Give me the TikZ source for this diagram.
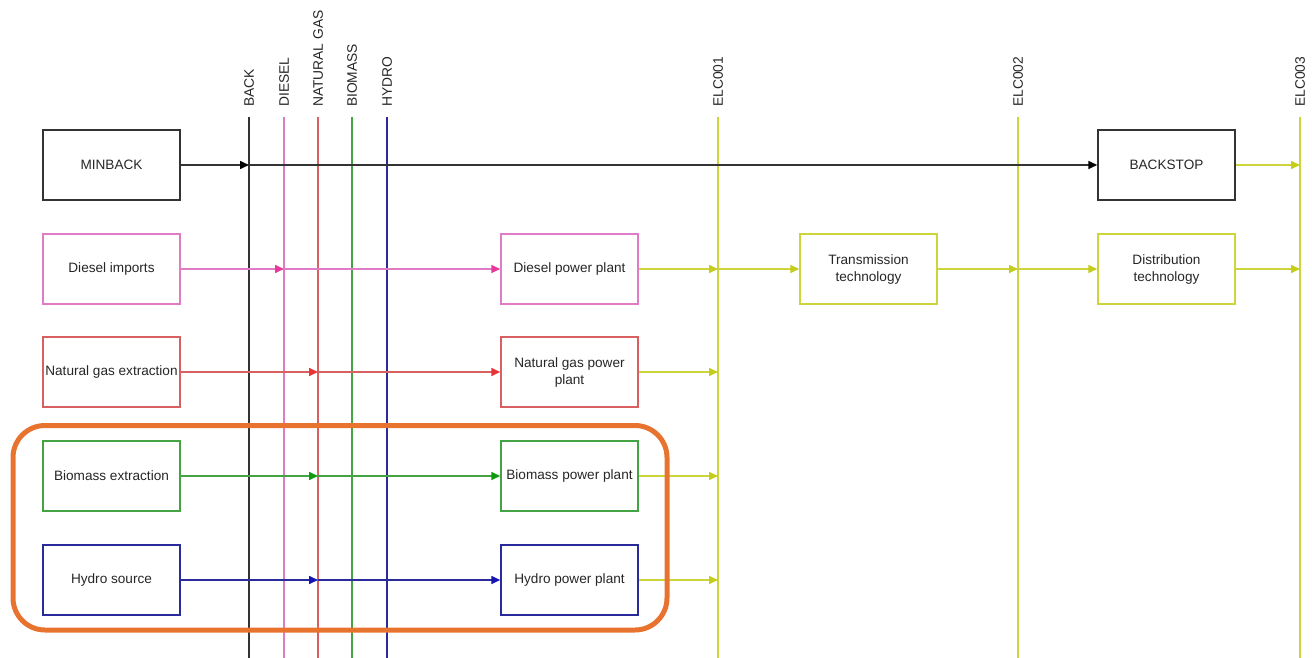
\documentclass[tikz,border=0pt]{standalone}
\usepackage{fontspec}
\setmainfont{Liberation Sans}
\usetikzlibrary{arrows.meta}
\definecolor{cblk}{HTML}{333333}
\definecolor{pinkl}{HTML}{E07CC6}
\definecolor{pinka}{HTML}{E8389A}
\definecolor{redl}{HTML}{D86060}
\definecolor{reda}{HTML}{E83434}
\definecolor{grnl}{HTML}{44A444}
\definecolor{grna}{HTML}{109A10}
\definecolor{blul}{HTML}{2A2A9C}
\definecolor{blua}{HTML}{1414B4}
\definecolor{yell}{HTML}{CDD53A}
\definecolor{yela}{HTML}{C4CC1C}
\definecolor{orng}{HTML}{E8732F}
\begin{document}
\begin{tikzpicture}[x=1pt,y=-1pt,
  font=\fontsize{13.6}{17}\selectfont,
  box/.style={draw, line width=1.5pt, minimum width=137pt, minimum height=70pt,
    inner sep=0pt, align=center, text=black!85},
  vlab/.style={rotate=90, anchor=west, inner sep=0pt, text=black!85, font=\fontsize{13.8}{17}\selectfont},
  vline/.style={line width=1.4pt},
  hline/.style={line width=1.6pt},
  tip/.style={-{Triangle[length=9pt,width=8pt,fill=#1,color=#1]}}
]
\useasboundingbox (0,0) rectangle (1312,658);

% vertical commodity lines
\foreach \nm/\xx/\cc/\tt in {vB/249/cblk/BACK, vD/284/pinkl/DIESEL, vN/318/redl/NATURAL GAS,
   vM/352/grnl/BIOMASS, vH/387/blul/HYDRO, vE1/718/yell/ELC001, vE2/1018/yell/ELC002, vE3/1300/yell/ELC003}{
  \coordinate (\nm) at (\xx,117);
  \coordinate (\nm b) at (\xx,658);
  \draw[vline, \cc] (\nm) -- (\nm b);
  \node[vlab] (\nm l) at (\xx,107) {\tt};
}

% boxes
\node[box, draw=cblk] (minback) at (111.5,165) {MINBACK};
\node[box, draw=pinkl] (dimp) at (111.5,269) {Diesel imports};
\node[box, draw=redl] (ngex) at (111.5,372) {Natural gas extraction};
\node[box, draw=grnl] (bmex) at (111.5,476) {Biomass extraction};
\node[box, draw=blul] (hysrc) at (111.5,580) {Hydro source};

\node[box, draw=pinkl] (dpp) at (569.5,269) {Diesel power plant};
\node[box, draw=redl] (ngpp) at (569.5,372) {Natural gas power\\plant};
\node[box, draw=grnl] (bmpp) at (569.5,476) {Biomass power plant};
\node[box, draw=blul] (hypp) at (569.5,580) {Hydro power plant};

\node[box, draw=yell] (trans) at (868.5,269) {Transmission\\technology};
\node[box, draw=yell] (dist) at (1166.5,269) {Distribution\\technology};
\node[box, draw=cblk] (backstop) at (1166.5,165) {BACKSTOP};

% connectors
\draw[hline, cblk, tip=black] (minback.east) -- (minback.east -| vB);
\draw[hline, cblk, tip=black] (minback.east -| vB) -- (backstop.west);

\draw[hline, pinkl, tip=pinka] (dimp.east) -- (dimp.east -| vD);
\draw[hline, pinkl, tip=pinka] (dimp.east -| vD) -- (dpp.west);

\draw[hline, redl, tip=reda] (ngex.east) -- (ngex.east -| vN);
\draw[hline, redl, tip=reda] (ngex.east -| vN) -- (ngpp.west);

\draw[hline, grnl, tip=grna] (bmex.east) -- (bmex.east -| vN);
\draw[hline, grnl, tip=grna] (bmex.east -| vN) -- (bmpp.west);

\draw[hline, blul, tip=blua] (hysrc.east) -- (hysrc.east -| vN);
\draw[hline, blul, tip=blua] (hysrc.east -| vN) -- (hypp.west);

\draw[hline, yell, tip=yela] (dpp.east) -- (dpp.east -| vE1);
\draw[hline, yell, tip=yela] (dpp.east -| vE1) -- (trans.west);
\draw[hline, yell, tip=yela] (trans.east) -- (trans.east -| vE2);
\draw[hline, yell, tip=yela] (trans.east -| vE2) -- (dist.west);
\draw[hline, yell, tip=yela] (dist.east) -- (dist.east -| vE3);
\draw[hline, yell, tip=yela] (backstop.east) -- (backstop.east -| vE3);
\draw[hline, yell, tip=yela] (ngpp.east) -- (ngpp.east -| vE1);
\draw[hline, yell, tip=yela] (bmpp.east) -- (bmpp.east -| vE1);
\draw[hline, yell, tip=yela] (hypp.east) -- (hypp.east -| vE1);

% highlight frame
\draw[orng, line width=5pt, rounded corners=32pt] (13,425.5) rectangle (667,630);
\end{tikzpicture}
\end{document}
